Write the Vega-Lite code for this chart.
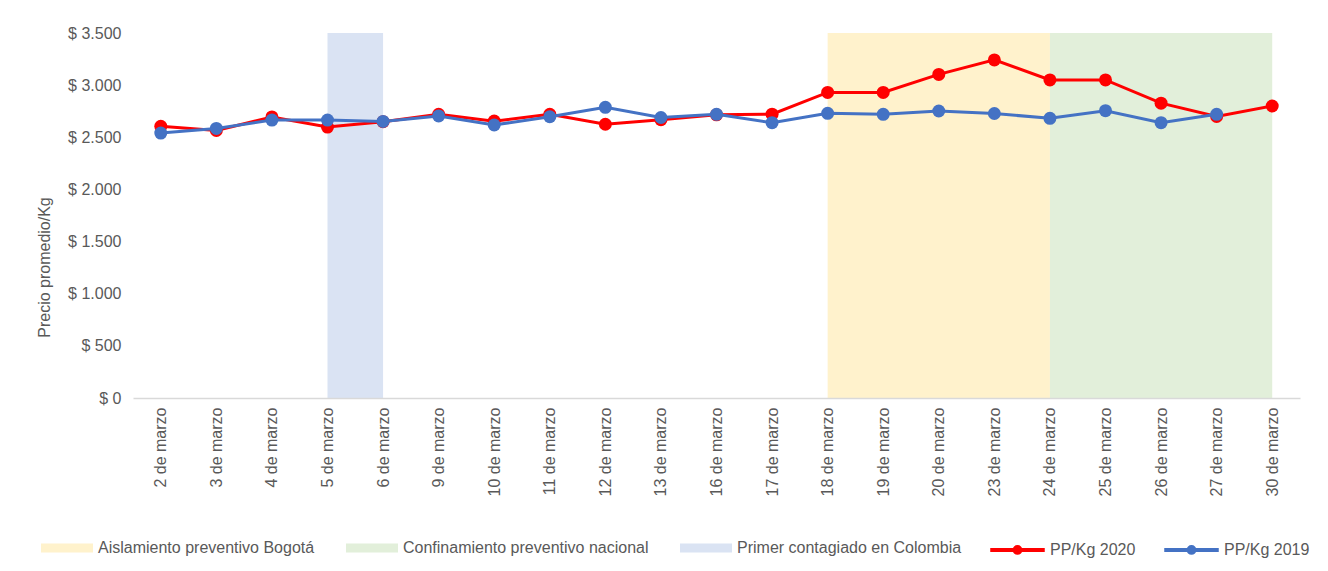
{
  "$schema": "https://vega.github.io/schema/vega-lite/v6.json",
  "autosize": {"type": "none"},
  "padding": {"left": 133, "top": 33, "right": 28, "bottom": 173},
  "width": 1167,
  "height": 365,
  "background": "white",
  "config": {
    "view": {"stroke": null},
    "font": "Liberation Sans",
    "axis": {"labelFont": "Liberation Sans", "titleFont": "Liberation Sans", "labelColor": "#595959", "titleColor": "#595959", "labelFontSize": 16, "titleFontSize": 16, "titleFontWeight": "normal"},
    "legend": {"labelFont": "Liberation Sans", "labelFontSize": 16, "labelColor": "#595959", "labelLimit": 0}
  },
  "datasets": {
    "precios": [
      {"fecha": "2 de marzo", "serie": "PP/Kg 2020", "valor": 2605},
      {"fecha": "3 de marzo", "serie": "PP/Kg 2020", "valor": 2565},
      {"fecha": "4 de marzo", "serie": "PP/Kg 2020", "valor": 2695},
      {"fecha": "5 de marzo", "serie": "PP/Kg 2020", "valor": 2598},
      {"fecha": "6 de marzo", "serie": "PP/Kg 2020", "valor": 2650},
      {"fecha": "9 de marzo", "serie": "PP/Kg 2020", "valor": 2720},
      {"fecha": "10 de marzo", "serie": "PP/Kg 2020", "valor": 2655},
      {"fecha": "11 de marzo", "serie": "PP/Kg 2020", "valor": 2720},
      {"fecha": "12 de marzo", "serie": "PP/Kg 2020", "valor": 2625},
      {"fecha": "13 de marzo", "serie": "PP/Kg 2020", "valor": 2668},
      {"fecha": "16 de marzo", "serie": "PP/Kg 2020", "valor": 2715},
      {"fecha": "17 de marzo", "serie": "PP/Kg 2020", "valor": 2722},
      {"fecha": "18 de marzo", "serie": "PP/Kg 2020", "valor": 2930},
      {"fecha": "19 de marzo", "serie": "PP/Kg 2020", "valor": 2930},
      {"fecha": "20 de marzo", "serie": "PP/Kg 2020", "valor": 3103},
      {"fecha": "23 de marzo", "serie": "PP/Kg 2020", "valor": 3242},
      {"fecha": "24 de marzo", "serie": "PP/Kg 2020", "valor": 3050},
      {"fecha": "25 de marzo", "serie": "PP/Kg 2020", "valor": 3050},
      {"fecha": "26 de marzo", "serie": "PP/Kg 2020", "valor": 2827},
      {"fecha": "27 de marzo", "serie": "PP/Kg 2020", "valor": 2700},
      {"fecha": "30 de marzo", "serie": "PP/Kg 2020", "valor": 2800},
      {"fecha": "2 de marzo", "serie": "PP/Kg 2019", "valor": 2540},
      {"fecha": "3 de marzo", "serie": "PP/Kg 2019", "valor": 2585},
      {"fecha": "4 de marzo", "serie": "PP/Kg 2019", "valor": 2665},
      {"fecha": "5 de marzo", "serie": "PP/Kg 2019", "valor": 2665},
      {"fecha": "6 de marzo", "serie": "PP/Kg 2019", "valor": 2652},
      {"fecha": "9 de marzo", "serie": "PP/Kg 2019", "valor": 2705},
      {"fecha": "10 de marzo", "serie": "PP/Kg 2019", "valor": 2618},
      {"fecha": "11 de marzo", "serie": "PP/Kg 2019", "valor": 2697},
      {"fecha": "12 de marzo", "serie": "PP/Kg 2019", "valor": 2787},
      {"fecha": "13 de marzo", "serie": "PP/Kg 2019", "valor": 2690},
      {"fecha": "16 de marzo", "serie": "PP/Kg 2019", "valor": 2720},
      {"fecha": "17 de marzo", "serie": "PP/Kg 2019", "valor": 2640},
      {"fecha": "18 de marzo", "serie": "PP/Kg 2019", "valor": 2730},
      {"fecha": "19 de marzo", "serie": "PP/Kg 2019", "valor": 2720},
      {"fecha": "20 de marzo", "serie": "PP/Kg 2019", "valor": 2752},
      {"fecha": "23 de marzo", "serie": "PP/Kg 2019", "valor": 2728},
      {"fecha": "24 de marzo", "serie": "PP/Kg 2019", "valor": 2682},
      {"fecha": "25 de marzo", "serie": "PP/Kg 2019", "valor": 2755},
      {"fecha": "26 de marzo", "serie": "PP/Kg 2019", "valor": 2640},
      {"fecha": "27 de marzo", "serie": "PP/Kg 2019", "valor": 2720}
    ],
    "periodos": [
      {"inicio": "5 de marzo", "fin": "6 de marzo", "serie": "Primer contagiado en Colombia", "base": 0, "tope": 3500},
      {"inicio": "18 de marzo", "fin": "24 de marzo", "serie": "Aislamiento preventivo Bogotá", "base": 0, "tope": 3500},
      {"inicio": "24 de marzo", "fin": "30 de marzo", "serie": "Confinamiento preventivo nacional", "base": 0, "tope": 3500}
    ]
  },
  "layer": [
    {
      "data": {"name": "periodos"},
      "mark": {"type": "rect", "opacity": 1},
      "encoding": {
        "x": {
          "field": "inicio",
          "type": "nominal",
          "sort": null,
          "scale": {
            "type": "point",
            "padding": 0.5,
            "domain": ["2 de marzo", "3 de marzo", "4 de marzo", "5 de marzo", "6 de marzo", "9 de marzo", "10 de marzo", "11 de marzo", "12 de marzo", "13 de marzo", "16 de marzo", "17 de marzo", "18 de marzo", "19 de marzo", "20 de marzo", "23 de marzo", "24 de marzo", "25 de marzo", "26 de marzo", "27 de marzo", "30 de marzo"]
          },
          "axis": {"title": null, "labelAngle": -90, "labelPadding": 9, "ticks": false, "tickSize": 0, "domainColor": "#d9d9d9", "domainWidth": 1.5, "grid": false}
        },
        "x2": {"field": "fin"},
        "y": {
          "field": "base",
          "type": "quantitative",
          "scale": {"domain": [0, 3500], "nice": false},
          "axis": {
            "title": "Precio promedio/Kg",
            "titleX": -84,
            "titleY": 234,
            "titleBaseline": "alphabetic",
            "titleAngle": -90,
            "titleAlign": "center",
            "values": [0, 500, 1000, 1500, 2000, 2500, 3000, 3500],
            "labelExpr": "'$ ' + replace(format(datum.value, ',.0f'), ',', '.')",
            "labelPadding": 12,
            "ticks": false,
            "tickSize": 0,
            "domain": false,
            "grid": false
          }
        },
        "y2": {"field": "tope"},
        "fill": {
          "field": "serie",
          "type": "nominal",
          "scale": {
            "domain": ["Aislamiento preventivo Bogotá", "Confinamiento preventivo nacional", "Primer contagiado en Colombia"],
            "range": ["#fff2cc", "#e2efda", "#dae3f3"]
          },
          "legend": {
            "title": null,
            "orient": "none",
            "direction": "horizontal",
            "columns": 3,
            "legendX": -92,
            "legendY": 489,
            "padding": 0,
            "symbolSize": 2704,
            "symbolType": "M-1,-0.17H1V0.17H-1Z",
            "symbolStrokeWidth": 0,
            "symbolOpacity": 1,
            "labelOffset": 5,
            "labelLimit": 0,
            "columnPadding": 31
          }
        }
      }
    },
    {
      "data": {"name": "precios"},
      "transform": [{"filter": "datum.serie == 'PP/Kg 2020'"}],
      "mark": {"type": "line", "strokeWidth": 3, "point": {"filled": true, "size": 169, "opacity": 1}},
      "encoding": {
        "x": {"field": "fecha", "type": "nominal", "sort": null},
        "y": {"field": "valor", "type": "quantitative"},
        "color": {
          "field": "serie",
          "type": "nominal",
          "scale": {"domain": ["PP/Kg 2020", "PP/Kg 2019"], "range": ["#ff0000", "#4472c4"]},
          "legend": {
            "title": null,
            "orient": "none",
            "direction": "horizontal",
            "columns": 2,
            "legendX": 857,
            "legendY": 489,
            "padding": 0,
            "symbolSize": 2704,
            "symbolType": "M-1,-0.03H1V0.03H-1Z M-0.14,0A0.14,0.14 0 1,1 0.14,0A0.14,0.14 0 1,1 -0.14,0Z",
            "symbolStrokeWidth": 2.5,
            "symbolOpacity": 1,
            "labelOffset": 5,
            "labelLimit": 0,
            "columnPadding": 24
          }
        }
      }
    },
    {
      "data": {"name": "precios"},
      "transform": [{"filter": "datum.serie == 'PP/Kg 2019'"}],
      "mark": {"type": "line", "strokeWidth": 3, "point": {"filled": true, "size": 169, "opacity": 1}},
      "encoding": {
        "x": {"field": "fecha", "type": "nominal", "sort": null},
        "y": {"field": "valor", "type": "quantitative"},
        "color": {"field": "serie", "type": "nominal"}
      }
    }
  ]
}
